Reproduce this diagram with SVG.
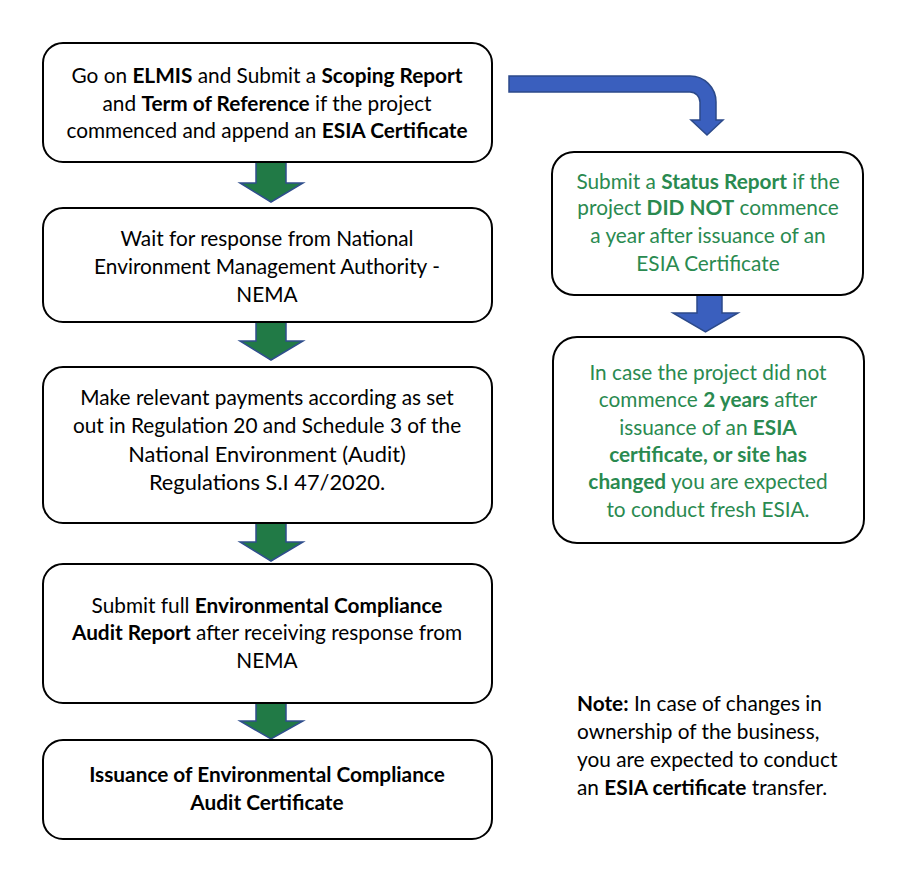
<svg xmlns="http://www.w3.org/2000/svg" width="924" height="886" viewBox="0 0 924 886">
<style>
.box{fill:#fff;stroke:#000;stroke-width:2}
.ga{fill:#217A46;stroke:#2F4E8C;stroke-width:1.5}
.ba{fill:#3A5FBE;stroke:#2C4A8A;stroke-width:1.5}
text{font-family:Lato,"Liberation Sans",sans-serif;font-size:20.8px;fill:#000;text-anchor:middle}
.g{fill:#2A8A50}
.b{font-weight:bold}
.big{font-size:21.8px}
.note{text-anchor:start}
</style>
<rect width="924" height="886" fill="#fff"/>
<g id="connectors">
<path class="ba" d="M509,76 H690 A26,26 0 0 1 716,102 V120 H723 L707,135 L691,120 H700 V102 A10,10 0 0 0 690,92 H509 Z"/>
<path class="ga" d="M256,162 H286 V183 H303 L271,202 L240,183 H256 Z"/>
<path class="ga" d="M256,322 H286 V341 H303 L271,360 L240,341 H256 Z"/>
<path class="ga" d="M256,523 H286 V542 H303 L271,561 L240,542 H256 Z"/>
<path class="ga" d="M256,703 H286 V721 H303 L271,739 L240,721 H256 Z"/>
<path class="ba" d="M697,295 H722 V313 H738 L705.5,332 L673,313 H697 Z"/>
</g>
<g id="n1">
<rect class="box" x="43" y="43" width="449" height="119" rx="20"/>
<text x="267" y="83">Go on <tspan class="b">ELMIS</tspan> and Submit a <tspan class="b">Scoping Report</tspan></text>
<text x="267" y="111">and <tspan class="b">Term of Reference</tspan> if the project</text>
<text x="267" y="138">commenced and append an <tspan class="b">ESIA Certificate</tspan></text>
</g>
<g id="n2">
<rect class="box" x="43" y="208" width="449" height="114" rx="20"/>
<text x="267" y="246">Wait for response from National</text>
<text x="267" y="274">Environment Management Authority -</text>
<text x="267" y="302">NEMA</text>
</g>
<g id="n3">
<rect class="box" x="43" y="367" width="449" height="156" rx="20"/>
<text x="267" y="405">Make relevant payments according as set</text>
<text x="267" y="433">out in Regulation 20 and Schedule 3 of the</text>
<text x="267" y="462" class="big">National Environment (Audit)</text>
<text x="267" y="490" class="big">Regulations S.I 47/2020.</text>
</g>
<g id="n4">
<rect class="box" x="43" y="564" width="449" height="139" rx="20"/>
<text x="267" y="613">Submit full <tspan class="b">Environmental Compliance</tspan></text>
<text x="267" y="640"><tspan class="b">Audit Report</tspan> after receiving response from</text>
<text x="267" y="668">NEMA</text>
</g>
<g id="n5">
<rect class="box" x="43" y="740" width="449" height="99" rx="20"/>
<text x="267" y="782" class="b">Issuance of Environmental Compliance</text>
<text x="267" y="810" class="b">Audit Certificate</text>
</g>
<g id="n6">
<rect class="box" x="552" y="152" width="311" height="143" rx="22"/>
<text class="g" x="708" y="189">Submit a <tspan class="b">Status Report</tspan> if the</text>
<text class="g" x="708" y="215">project <tspan class="b">DID NOT</tspan> commence</text>
<text class="g" x="708" y="243">a year after issuance of an</text>
<text class="g" x="708" y="271">ESIA Certificate</text>
</g>
<g id="n7">
<rect class="box" x="553" y="337" width="311" height="206" rx="24"/>
<text class="g" x="708" y="380">In case the project did not</text>
<text class="g" x="708" y="407">commence <tspan class="b">2 years</tspan> after</text>
<text class="g" x="708" y="435">issuance of an <tspan class="b">ESIA</tspan></text>
<text class="g b" x="708" y="462">certificate, or site has</text>
<text class="g" x="708" y="489"><tspan class="b">changed</tspan> you are expected</text>
<text class="g" x="708" y="517">to conduct fresh ESIA.</text>
</g>
<g id="note">
<text class="note" x="577" y="711"><tspan class="b">Note:</tspan> In case of changes in</text>
<text class="note" x="577" y="739">ownership of the business,</text>
<text class="note" x="577" y="767">you are expected to conduct</text>
<text class="note" x="577" y="795">an <tspan class="b">ESIA certificate</tspan> transfer.</text>
</g>
</svg>
